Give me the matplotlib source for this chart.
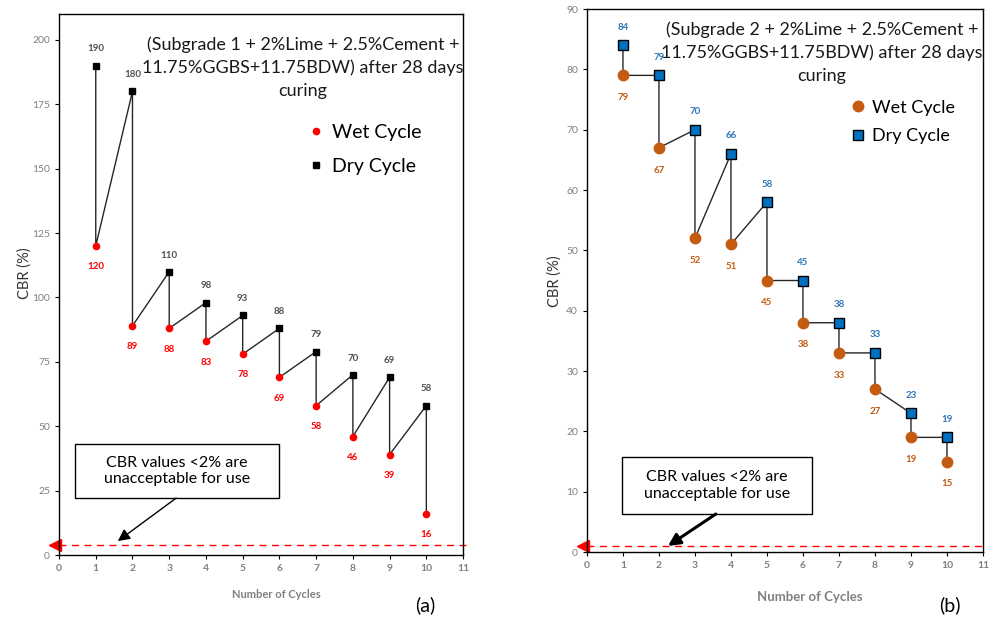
import matplotlib
matplotlib.use("Agg")
import matplotlib.pyplot as plt
from matplotlib.patches import Rectangle
import numpy as np

plt.rcParams['font.family'] = ['Lato', 'DejaVu Sans']

# data
cycles = np.arange(1, 11)
wet_a = [120, 89, 88, 83, 78, 69, 58, 46, 39, 16]
dry_a = [190, 180, 110, 98, 93, 88, 79, 70, 69, 58]
wet_b = [79, 67, 52, 51, 45, 38, 33, 27, 19, 15]
dry_b = [84, 79, 70, 66, 58, 45, 38, 33, 23, 19]

title_a = "(Subgrade 1 + 2%Lime + 2.5%Cement +\n11.75%GGBS+11.75BDW) after 28 days\ncuring"
title_b = "(Subgrade 2 + 2%Lime + 2.5%Cement +\n11.75%GGBS+11.75BDW) after 28 days\ncuring"
note = "CBR values <2% are\nunacceptable for use"


def zigzag(dry, wet):
    # path goes dry -> wet at each cycle, then on to the next dry value
    xs, ys = [], []
    for c, d, w in zip(cycles, dry, wet):
        xs += [c, c]
        ys += [d, w]
    return xs, ys


def style_axes(ax, ymax, yticks):
    ax.set_xlim(0, 11)
    ax.set_ylim(0, ymax)
    ax.set_xticks(range(0, 12))
    ax.set_yticks(yticks)
    for s in ax.spines.values():
        s.set_color('black')
        s.set_linewidth(1.0)
    ax.tick_params(axis='both', direction='out', length=3, width=0.8, colors='black')
    for lab in ax.get_xticklabels():
        lab.set_color('#808080')
        lab.set_fontweight('bold')
        lab.set_fontsize(7.5)
    for lab in ax.get_yticklabels():
        lab.set_color('#808080')
        lab.set_fontsize(7.5)


def note_box(ax, x0, x1, y0, y1, start, tip, lw):
    ax.add_patch(Rectangle((x0, y0), x1 - x0, y1 - y0, fc='white', ec='black', lw=1.0, zorder=4))
    ax.text((x0 + x1) / 2, (y0 + y1) / 2, note, ha='center', va='center', fontsize=11.5,
            linespacing=1.25, zorder=5)
    ax.annotate('', xy=tip, xytext=start,
                arrowprops=dict(arrowstyle='-|>', color='black', lw=lw, mutation_scale=18,
                                shrinkA=0, shrinkB=0), zorder=5)


fig = plt.figure(figsize=(9.92, 6.26), dpi=100)

# ---------------- panel (a) ----------------
ax1 = fig.add_axes([0.0595, 0.1134, 0.4073, 0.864])
style_axes(ax1, 210, np.arange(0, 201, 25))

xs, ys = zigzag(dry_a, wet_a)
ax1.plot(xs, ys, color='#262626', lw=1.0, zorder=2)
ax1.plot(cycles, wet_a, 'o', color='#FF0000', ms=4.5, label='Wet Cycle', zorder=3)
ax1.plot(cycles, dry_a, 's', color='black', ms=5, label='Dry Cycle', zorder=3)
for c, v in zip(cycles, dry_a):
    ax1.annotate(str(v), (c, v), xytext=(0, 12), textcoords='offset points',
                 ha='center', va='center', fontsize=7, fontweight='bold', color='#505050')
for c, v in zip(cycles, wet_a):
    ax1.annotate(str(v), (c, v), xytext=(0, -15), textcoords='offset points',
                 ha='center', va='center', fontsize=7, fontweight='bold', color='#FF0000')

ax1.text(6.64, 201.5, title_a, ha='center', va='top', fontsize=13, color='#1a1a1a',
         linespacing=1.52)
ax1.legend(loc='center left', bbox_to_anchor=(0.565, 0.75), frameon=False, fontsize=14,
           handletextpad=0.2, labelspacing=0.9, handlelength=1.2)

ax1.plot([0, 11.1], [4, 4], ls=(0, (5, 4)), color='#FF0000', lw=1.0, clip_on=False, zorder=1)
ax1.plot([-0.12], [4], marker='<', color='#FF0000', ms=8, clip_on=False)
note_box(ax1, 0.436, 5.99, 22.1, 43.1, start=(3.19, 22.1), tip=(1.6, 5.4), lw=1.0)

fig.text(276 / 992, 1 - 594 / 626, 'Number of Cycles', ha='center', va='center',
         fontsize=8, fontweight='bold', color='#808080')
fig.text(25 / 992, 1 - 273 / 626, 'CBR (%)', ha='center', va='center', rotation=90,
         fontsize=10.5, color='#333333')
fig.text(425 / 992, 1 - 605 / 626, '(a)', ha='center', va='center', fontsize=14)

# ---------------- panel (b) ----------------
ax2 = fig.add_axes([0.5917, 0.1182, 0.3992, 0.8674])
style_axes(ax2, 90, np.arange(0, 91, 10))

xs, ys = zigzag(dry_b, wet_b)
ax2.plot(xs, ys, color='#262626', lw=1.0, zorder=2)
ax2.plot(cycles, wet_b, 'o', color='#C55A11', ms=7.5, label='Wet Cycle', zorder=3)
ax2.plot(cycles, dry_b, 's', color='#0070C0', mec='black', mew=1.0, ms=7, label='Dry Cycle', zorder=3)
for c, v in zip(cycles, dry_b):
    ax2.annotate(str(v), (c, v), xytext=(0, 13), textcoords='offset points',
                 ha='center', va='center', fontsize=7, fontweight='bold', color='#2E75B6')
for c, v in zip(cycles, wet_b):
    ax2.annotate(str(v), (c, v), xytext=(0, -16), textcoords='offset points',
                 ha='center', va='center', fontsize=7, fontweight='bold', color='#C55A11')

ax2.text(6.53, 88.0, title_b, ha='center', va='top', fontsize=13, color='#1a1a1a',
         linespacing=1.52, zorder=1)
ax2.legend(loc='center left', bbox_to_anchor=(0.615, 0.792), frameon=False, fontsize=13,
           handletextpad=0.2, labelspacing=0.7, handlelength=1.2)

ax2.plot([0, 11.1], [1, 1], ls=(0, (5, 4)), color='#FF0000', lw=1.0, clip_on=False, zorder=1)
ax2.plot([-0.1], [1], marker='<', color='#FF0000', ms=8, clip_on=False)
note_box(ax2, 0.97, 6.25, 6.3, 15.7, start=(3.58, 6.3), tip=(2.25, 1.0), lw=2.2)

fig.text(810 / 992, 1 - 597 / 626, 'Number of Cycles', ha='center', va='center',
         fontsize=9.5, fontweight='bold', color='#808080')
fig.text(555 / 992, 1 - 281 / 626, 'CBR (%)', ha='center', va='center', rotation=90,
         fontsize=10.5, color='#333333')
fig.text(950 / 992, 1 - 605 / 626, '(b)', ha='center', va='center', fontsize=14)

fig.savefig('out.png', dpi=100)
